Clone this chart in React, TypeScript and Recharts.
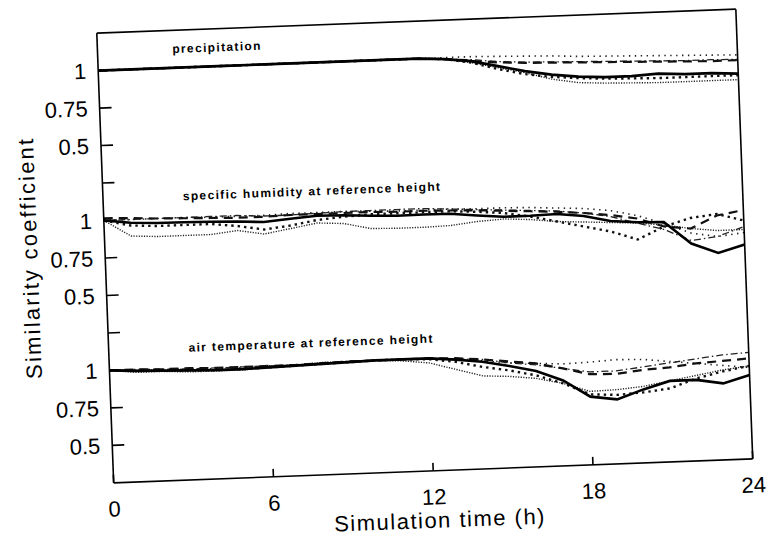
import { LineChart, Line, XAxis, YAxis, ReferenceDot } from "recharts";

// simulation hours
const HOURS = [0, 1, 2, 3, 4, 5, 6, 7, 8, 9, 10, 11, 12, 13, 14, 15, 16, 17, 18, 19, 20, 21, 22, 23, 24];
const X_TICKS = [0, 6, 12, 18, 24];

// precipitation
const PRECIP_SOLID = [1, 1, 1, 1, 1, 1, 1, 1, 1, 1, 1, 1, 1, 0.99, 0.97, 0.93, 0.89, 0.86, 0.84, 0.83, 0.83, 0.84, 0.83, 0.83, 0.82];
const PRECIP_DASHED = [1, 1, 1, 1, 1, 1, 1, 1, 1, 1, 1, 1, 1, 0.99, 0.97, 0.955, 0.945, 0.94, 0.935, 0.93, 0.925, 0.92, 0.915, 0.91, 0.91];
const PRECIP_DOTTED = [1, 1, 1, 1, 1, 1, 1, 1, 1, 1, 1, 1, 1, 1, 1, 0.995, 0.99, 0.985, 0.975, 0.97, 0.965, 0.96, 0.955, 0.95, 0.945];
const PRECIP_BOLD = [1, 1, 1, 1, 1, 1, 1, 1, 1, 1, 1, 1, 1, 0.99, 0.96, 0.91, 0.87, 0.845, 0.83, 0.82, 0.815, 0.81, 0.81, 0.81, 0.81];
const PRECIP_THIN = [1, 1, 1, 1, 1, 1, 1, 1, 1, 1, 1, 1, 1, 0.99, 0.96, 0.92, 0.88, 0.83, 0.8, 0.79, 0.785, 0.78, 0.78, 0.78, 0.78];
const PRECIP_DASHDOT = [1, 1, 1, 1, 1, 1, 1, 1, 1, 1, 1, 1, 1, 0.99, 0.98, 0.96, 0.95, 0.945, 0.94, 0.935, 0.93, 0.925, 0.92, 0.92, 0.915];

// specific humidity at reference height
const HUM_SOLID = [1, 0.978, 0.97, 0.968, 0.965, 0.96, 0.95, 0.965, 0.978, 0.975, 0.965, 0.958, 0.96, 0.958, 0.94, 0.925, 0.925, 0.93, 0.91, 0.87, 0.855, 0.85, 0.7, 0.63, 0.68];
const HUM_DASHED = [1.015, 1.01, 1, 0.995, 0.99, 0.985, 0.985, 0.99, 0.99, 0.99, 0.99, 0.985, 0.985, 0.98, 0.975, 0.965, 0.955, 0.945, 0.93, 0.91, 0.88, 0.82, 0.8, 0.88, 0.91];
const HUM_DOTTED = [1, 1, 1, 1, 0.995, 0.995, 0.995, 1, 1, 1, 0.995, 0.99, 0.99, 0.99, 0.985, 0.985, 0.98, 0.97, 0.96, 0.94, 0.9, 0.84, 0.77, 0.74, 0.76];
const HUM_BOLD = [1, 0.96, 0.95, 0.95, 0.95, 0.93, 0.9, 0.92, 0.95, 0.965, 0.975, 0.975, 0.975, 0.975, 0.965, 0.95, 0.92, 0.88, 0.84, 0.8, 0.74, 0.82, 0.87, 0.89, 0.84];
const HUM_THIN = [1, 0.89, 0.88, 0.88, 0.88, 0.9, 0.87, 0.9, 0.93, 0.92, 0.88, 0.875, 0.875, 0.88, 0.9, 0.91, 0.9, 0.88, 0.87, 0.86, 0.85, 0.83, 0.8, 0.78, 0.78];
const HUM_DASHDOT = [1, 1, 1, 1, 1, 1, 0.99, 0.99, 0.995, 1, 1, 1, 1, 0.99, 0.98, 0.97, 0.96, 0.95, 0.93, 0.9, 0.85, 0.8, 0.72, 0.74, 0.8];

// air temperature at reference height
const TEMP_SOLID = [1, 0.99, 0.985, 0.98, 0.975, 0.975, 0.98, 0.985, 0.99, 0.995, 1, 1, 1, 0.985, 0.965, 0.93, 0.89, 0.82, 0.705, 0.68, 0.74, 0.79, 0.79, 0.76, 0.81];
const TEMP_DASHED = [1, 1, 0.995, 0.995, 0.99, 0.99, 0.99, 0.99, 0.995, 1, 1, 1, 1, 0.995, 0.98, 0.96, 0.94, 0.9, 0.855, 0.85, 0.87, 0.88, 0.9, 0.91, 0.92];
const TEMP_DOTTED = [1, 0.995, 0.99, 0.99, 0.985, 0.985, 0.99, 0.99, 0.995, 1, 1, 1, 1, 0.99, 0.97, 0.95, 0.94, 0.93, 0.935, 0.945, 0.94, 0.92, 0.9, 0.88, 0.86];
const TEMP_BOLD = [1, 0.99, 0.985, 0.98, 0.975, 0.975, 0.98, 0.985, 0.99, 0.995, 1, 1, 0.995, 0.97, 0.93, 0.9, 0.86, 0.8, 0.72, 0.71, 0.72, 0.74, 0.8, 0.84, 0.87];
const TEMP_THIN = [1, 0.98, 0.98, 0.97, 0.97, 0.97, 0.98, 0.99, 1, 1, 1, 0.99, 0.97, 0.92, 0.87, 0.86, 0.84, 0.8, 0.74, 0.745, 0.76, 0.79, 0.82, 0.85, 0.87];
const TEMP_DASHDOT = [1, 1, 0.995, 0.99, 0.99, 0.99, 0.99, 0.99, 0.995, 1, 1, 1, 1, 0.99, 0.98, 0.95, 0.93, 0.9, 0.87, 0.87, 0.89, 0.91, 0.93, 0.95, 0.96];

// the three panels share one y axis, each shifted by a whole unit
const PANELS = [
  { id: "p", shift: 1.75, series: { thin: PRECIP_THIN, dotted: PRECIP_DOTTED, dashDot: PRECIP_DASHDOT, bold: PRECIP_BOLD, dashed: PRECIP_DASHED, solid: PRECIP_SOLID } },
  { id: "q", shift: 0.75, series: { thin: HUM_THIN, dotted: HUM_DOTTED, dashDot: HUM_DASHDOT, bold: HUM_BOLD, dashed: HUM_DASHED, solid: HUM_SOLID } },
  { id: "t", shift: -0.25, series: { thin: TEMP_THIN, dotted: TEMP_DOTTED, dashDot: TEMP_DASHDOT, bold: TEMP_BOLD, dashed: TEMP_DASHED, solid: TEMP_SOLID } },
];

const Y_TICKS = [0.25, 0.5, 0.75, 1, 1.25, 1.5, 1.75, 2, 2.25, 2.5, 2.75];

const STYLES: Record<string, { dash?: string; width: number; color: string }> = {
  thin: { dash: "1.2 1.4", width: 1.4, color: "#222" },
  dotted: { dash: "1.4 4.5", width: 1.6, color: "#222" },
  dashDot: { dash: "7 3 1.5 3", width: 1.3, color: "#222" },
  bold: { dash: "2.4 4", width: 2.4, color: "#111" },
  dashed: { dash: "9 6", width: 2.2, color: "#111" },
  solid: { width: 2.6, color: "#000" },
};
const STYLE_ORDER = ["thin", "dotted", "dashDot", "bold", "dashed", "solid"];

const rows = HOURS.map((h, i) => {
  const row: Record<string, number> = { h };
  PANELS.forEach((p) => {
    STYLE_ORDER.forEach((s) => {
      row[`${p.id}_${s}`] = (p.series as Record<string, number[]>)[s][i] + p.shift;
    });
  });
  return row;
});

function yLabel(t: number) {
  const f = Math.round((((t - 0.25) % 1) + 1) % 1 * 100) / 100;
  if (f === 0) return "0.5";
  if (f === 0.25) return "0.75";
  if (f === 0.5) return "1";
  return "";
}

const FONT = '"Liberation Sans", Arial, sans-serif';
const AXIS = { stroke: "#000", strokeWidth: 1.6 };
const TITLE = { position: "center" as const, fill: "#000", fontSize: 12, fontWeight: 700, fontFamily: FONT, letterSpacing: 1.35 };

export default function App() {
  return (
    <div
      style={{
        position: "absolute",
        left: 0,
        top: 0,
        width: 767,
        height: 537,
        background: "#fff",
        transform: "rotate(-2.15deg)",
        transformOrigin: "424.75px 246px",
      }}
    >
      <LineChart width={767} height={537} data={rows} margin={{ top: 1, right: 2.5, bottom: 0, left: 0 }}>
        <XAxis
          dataKey="h"
          type="number"
          domain={[0, 24]}
          ticks={X_TICKS}
          interval={0}
          height={66}
          axisLine={AXIS}
          tickLine={AXIS}
          tickSize={-8}
          tickMargin={26}
          tick={{ fill: "#000", fontSize: 22, fontFamily: FONT }}
          label={{
            value: "Simulation time (h)",
            position: "insideBottom",
            offset: 9,
            dx: 5,
            fill: "#000",
            fontSize: 22,
            fontFamily: FONT,
            letterSpacing: 1.5,
          }}
        />
        <XAxis
          xAxisId="top"
          orientation="top"
          type="number"
          domain={[0, 24]}
          ticks={[6, 12, 18]}
          height={20}
          axisLine={AXIS}
          tickLine={AXIS}
          tickSize={-9}
          tick={false}
        />
        <YAxis
          type="number"
          domain={[0, 3]}
          ticks={Y_TICKS}
          interval={0}
          width={105}
          axisLine={AXIS}
          tickLine={AXIS}
          tickSize={-12}
          tickMargin={24}
          tickFormatter={yLabel}
          tick={{ fill: "#000", fontSize: 22, fontFamily: FONT }}
          label={{
            value: "Similarity coefficient",
            angle: -90,
            position: "center",
            dx: -23,
            dy: -3,
            fill: "#000",
            fontSize: 22,
            fontFamily: FONT,
            letterSpacing: 2.2,
          }}
        />
        <YAxis
          yAxisId="right"
          orientation="right"
          type="number"
          domain={[0, 3]}
          ticks={Y_TICKS}
          interval={0}
          width={20}
          axisLine={AXIS}
          tickLine={AXIS}
          tickSize={-10}
          tick={false}
        />
        {PANELS.flatMap((p) =>
          STYLE_ORDER.map((s) => (
            <Line
              key={`${p.id}_${s}`}
              dataKey={`${p.id}_${s}`}
              type="linear"
              stroke={STYLES[s].color}
              strokeWidth={STYLES[s].width}
              strokeDasharray={STYLES[s].dash}
              dot={false}
              activeDot={false}
              isAnimationActive={false}
            />
          ))
        )}
        <ReferenceDot x={4.49} y={2.877} r={0} stroke="none" label={{ ...TITLE, value: "precipitation" }} />
        <ReferenceDot x={7.85} y={1.894} r={0} stroke="none" label={{ ...TITLE, value: "specific humidity at reference height" }} />
        <ReferenceDot x={7.6} y={0.883} r={0} stroke="none" label={{ ...TITLE, value: "air temperature at reference height" }} />
      </LineChart>
    </div>
  );
}
